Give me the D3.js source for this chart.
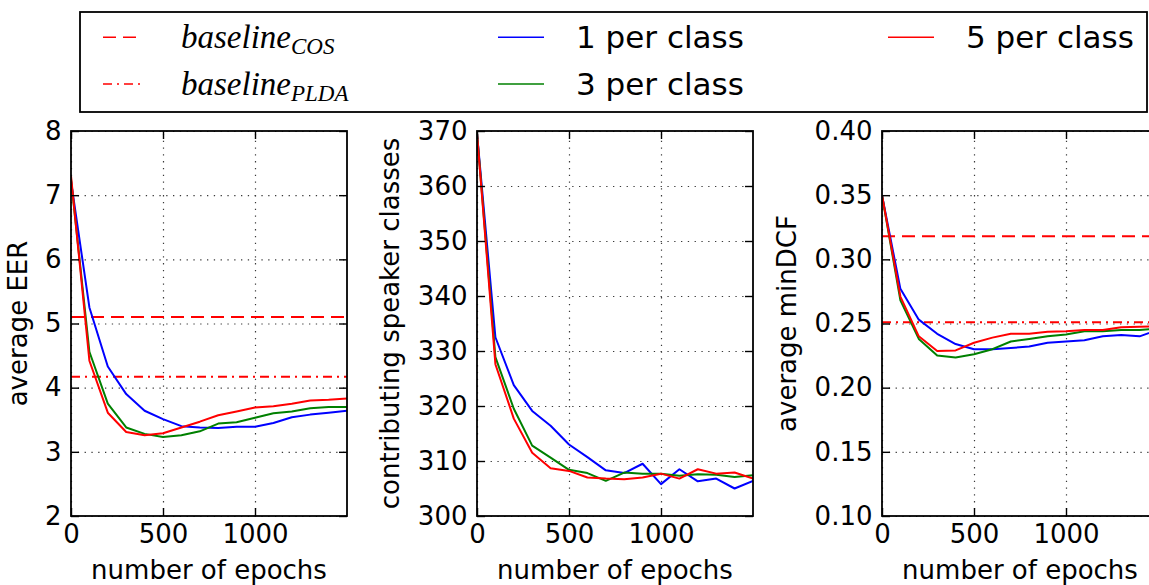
<!DOCTYPE html>
<html><head><meta charset="utf-8">
<script src="https://cdn.jsdelivr.net/npm/d3@7/dist/d3.min.js"></script>
<style>body{margin:0;background:#fff}svg{display:block;overflow:hidden}</style>
</head><body>
<svg id="chart" width="1149" height="585"></svg>
<script>
// ---------- data ----------
const epochs = [0,100,200,300,400,500,600,700,800,900,1000,1100,1200,1300,1400,1500];

const eer1 = [7.22,5.25,4.33,3.90,3.64,3.51,3.40,3.38,3.37,3.39,3.39,3.45,3.54,3.58,3.61,3.64];
const eer3 = [7.25,4.56,3.75,3.38,3.28,3.23,3.26,3.32,3.44,3.46,3.53,3.60,3.63,3.68,3.70,3.70];
const eer5 = [7.30,4.42,3.61,3.31,3.26,3.29,3.38,3.47,3.57,3.63,3.69,3.71,3.75,3.80,3.81,3.83];

const cls1 = [369.6,332.5,323.8,319.1,316.4,313.0,310.7,308.3,307.8,309.5,305.8,308.5,306.3,306.8,305.0,306.4];
const cls3 = [369.6,328.9,319.5,312.8,310.6,308.4,307.8,306.4,307.9,307.7,307.7,307.3,307.6,307.5,307.1,307.4];
const cls5 = [369.6,327.6,317.7,311.5,308.7,308.2,307.0,306.8,306.7,307.0,307.7,306.8,308.5,307.7,307.9,306.8];

const dcf1 = [0.350,0.277,0.253,0.242,0.234,0.230,0.230,0.231,0.232,0.235,0.236,0.237,0.240,0.241,0.240,0.245];
const dcf3 = [0.350,0.268,0.238,0.225,0.2235,0.226,0.230,0.236,0.238,0.240,0.2415,0.244,0.244,0.245,0.245,0.246];
const dcf5 = [0.350,0.271,0.240,0.2285,0.229,0.235,0.239,0.242,0.242,0.2435,0.244,0.245,0.245,0.247,0.2475,0.248];

const eerBaselineCos = 5.10, eerBaselinePlda = 4.17;
const dcfBaselineCos = 0.318, dcfBaselinePlda = 0.251;

const seriesNames = ["1 per class","3 per class","5 per class"];
const seriesColors = ["#0000ff","#008000","#ff0000"];

const xTicks = [0,500,1000];
const eerTicks = [2,3,4,5,6,7,8];
const clsTicks = [300,310,320,330,340,350,360,370];
const dcfTicks = [0.10,0.15,0.20,0.25,0.30,0.35,0.40];

const yLabels = ["average EER","contributing speaker classes","average minDCF"];
const xLabel = "number of epochs";

// ---------- layout ----------
const svg = d3.select("#chart");
const plotTop = 131, plotBottom = 516, pw = 276;
const lefts = [71, 477, 882];
const titleX = [27, 399, 796];
const FONT = "DejaVu Sans, sans-serif";

const panels = [
  {series:[eer1,eer3,eer5], domain:[2,8], ticks:eerTicks, fmt:d3.format("d"), base:[eerBaselineCos,eerBaselinePlda]},
  {series:[cls1,cls3,cls5], domain:[300,370], ticks:clsTicks, fmt:d3.format("d"), base:null},
  {series:[dcf1,dcf3,dcf5], domain:[0.10,0.40], ticks:dcfTicks, fmt:d3.format(".2f"), base:[dcfBaselineCos,dcfBaselinePlda]}
];

const dashCos = "13,7", dashPlda = "9,5,2,5";

panels.forEach((p, i) => {
  const L = lefts[i], R = L + pw;
  const x = d3.scaleLinear().domain([0,1500]).range([L, R]);
  const y = d3.scaleLinear().domain(p.domain).range([plotBottom, plotTop]);
  const g = svg.append("g");

  const clipId = "clip"+i;
  svg.append("clipPath").attr("id", clipId).append("rect")
    .attr("x", L).attr("y", plotTop).attr("width", pw).attr("height", plotBottom-plotTop);

  // grid
  const gridY = g.append("g").attr("transform", `translate(${L},0)`)
    .call(d3.axisLeft(y).tickValues(p.ticks).tickSize(-pw).tickFormat(""));
  const gridX = g.append("g").attr("transform", `translate(0,${plotBottom})`)
    .call(d3.axisBottom(x).tickValues(xTicks).tickSize(-(plotBottom-plotTop)).tickFormat(""));
  [gridY, gridX].forEach(a => {
    a.select(".domain").remove();
    a.selectAll("line").attr("stroke","#3a3a3a").attr("stroke-width",1.2).attr("stroke-dasharray","1.3,5.5");
  });

  const plot = g.append("g").attr("clip-path", `url(#${clipId})`);

  // baselines
  if (p.base) {
    plot.append("line").attr("x1", L).attr("x2", R).attr("y1", y(p.base[0])).attr("y2", y(p.base[0]))
      .attr("stroke","#ff0000").attr("stroke-width",2).attr("stroke-dasharray",dashCos);
    plot.append("line").attr("x1", L).attr("x2", R).attr("y1", y(p.base[1])).attr("y2", y(p.base[1]))
      .attr("stroke","#ff0000").attr("stroke-width",2).attr("stroke-dasharray",dashPlda);
  }

  const line = d3.line().x((d,k) => x(epochs[k])).y(d => y(d));
  p.series.forEach((s, k) => {
    plot.append("path").datum(s).attr("d", line).attr("fill","none")
      .attr("stroke", seriesColors[k]).attr("stroke-width",2).attr("stroke-linejoin","round");
  });

  // axes with inward ticks
  const ax = [
    g.append("g").attr("transform",`translate(0,${plotBottom})`)
      .call(d3.axisBottom(x).tickValues(xTicks).tickSize(-8).tickPadding(8.5).tickFormat(d3.format("d"))),
    g.append("g").attr("transform",`translate(0,${plotTop})`)
      .call(d3.axisTop(x).tickValues(xTicks).tickSize(-8).tickFormat("")),
    g.append("g").attr("transform",`translate(${L},0)`)
      .call(d3.axisLeft(y).tickValues(p.ticks).tickSize(-8).tickPadding(9.5).tickFormat(p.fmt)),
    g.append("g").attr("transform",`translate(${R},0)`)
      .call(d3.axisRight(y).tickValues(p.ticks).tickSize(-8).tickFormat(""))
  ];
  ax.forEach(a => {
    a.select(".domain").remove();
    a.selectAll("line").attr("stroke","#000").attr("stroke-width",1.4);
    a.selectAll("text").attr("font-family",FONT).attr("font-size",26).attr("fill","#000");
  });

  // frame
  g.append("rect").attr("x",L).attr("y",plotTop).attr("width",pw).attr("height",plotBottom-plotTop)
    .attr("fill","none").attr("stroke","#000").attr("stroke-width",1.8);

  // axis titles
  g.append("text").attr("x",(L+R)/2).attr("y",579).attr("text-anchor","middle")
    .attr("font-family",FONT).attr("font-size",26).text(xLabel);
  g.append("text").attr("transform",`translate(${titleX[i]},${(plotTop+plotBottom)/2}) rotate(-90)`)
    .attr("text-anchor","middle").attr("font-family",FONT).attr("font-size",26).text(yLabels[i]);
});

// ---------- legend ----------
const lg = svg.append("g");
lg.append("rect").attr("x",80).attr("y",12).attr("width",1067).attr("height",100)
  .attr("fill","#fff").attr("stroke","#000").attr("stroke-width",1.8);

const rowLineY = [37.3, 84], rowTextY = [48.3, 95];
const baseItems = [
  {main:"baseline", sub:"COS", dash:dashCos},
  {main:"baseline", sub:"PLDA", dash:dashPlda}
];
baseItems.forEach((it, r) => {
  lg.append("line").attr("x1",103).attr("x2",140).attr("y1",rowLineY[r]).attr("y2",rowLineY[r])
    .attr("stroke","#ff0000").attr("stroke-width",1.6).attr("stroke-dasharray",it.dash);
  const t = lg.append("text").attr("x",181).attr("y",rowTextY[r])
    .attr("font-family","Liberation Serif, serif").attr("font-style","italic").attr("font-size",33);
  t.append("tspan").text(it.main);
  t.append("tspan").attr("font-size",23).attr("dy",5.5).text(it.sub);
});

const seriesPos = [{lx:498, tx:576, r:0}, {lx:498, tx:576, r:1}, {lx:888, tx:966, r:0}];
seriesNames.forEach((name, k) => {
  const pos = seriesPos[k];
  lg.append("line").attr("x1",pos.lx).attr("x2",pos.lx+46).attr("y1",rowLineY[pos.r]).attr("y2",rowLineY[pos.r])
    .attr("stroke",seriesColors[k]).attr("stroke-width",1.6);
  lg.append("text").attr("x",pos.tx).attr("y",rowTextY[pos.r])
    .attr("font-family",FONT).attr("font-size",31).text(name);
});
</script>
</body></html>
